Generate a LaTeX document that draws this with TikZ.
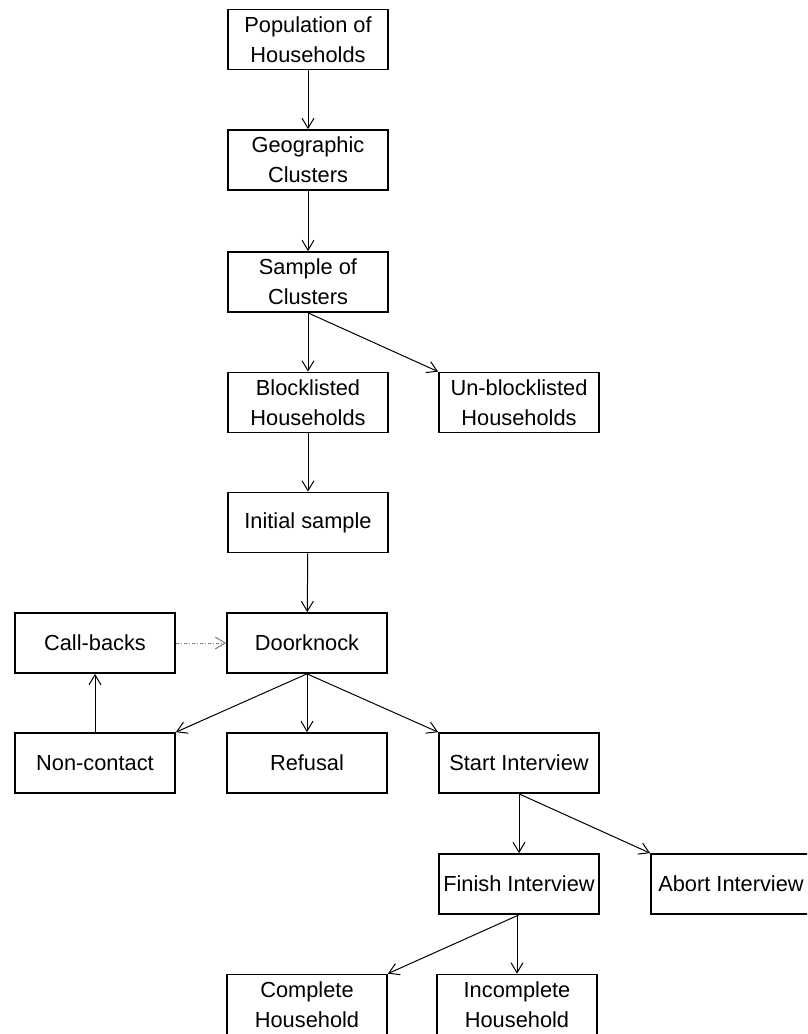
\documentclass[tikz,border=0pt]{standalone}
\usepackage{fontspec}
\setmainfont{Liberation Sans}
\usetikzlibrary{arrows.meta}
\begin{document}
\begin{tikzpicture}[x=1pt,y=-1pt,
  box/.style={draw, line width=1.7pt, minimum width=160pt, minimum height=60pt,
    align=center, inner sep=0pt, font=\fontsize{21.8}{30}\selectfont},
  link/.style={line width=1pt, -{Straight Barb[length=10pt,width=12pt,line width=1pt]}},
  dotlink/.style={link, dash dot, draw=gray}]
\useasboundingbox (0,0) rectangle (807,1034);
\clip (0,0) rectangle (807,1034);

% main column
\node[box] (pop)   at (308,39.5)  {Population of\\Households};
\node[box] (geo)   at (308,160)   {Geographic\\Clusters};
\node[box] (samp)  at (308,282)   {Sample of\\Clusters};
\node[box] (blk)   at (308,402.5) {Blocklisted\\Households};
\node[box] (unblk) at (519,402.5) {Un-blocklisted\\Households};
\node[box] (init)  at (308,522.5) {Initial sample};
\node[box] (door)  at (307,643)   {Doorknock};
\node[box] (call)  at (95,643)    {Call-backs};

% outcomes of a doorknock
\node[box] (nonc)  at (95,763)    {Non-contact};
\node[box] (ref)   at (307,763)   {Refusal};
\node[box] (start) at (519,763)   {Start Interview};
\node[box] (fin)   at (519,884)   {Finish Interview};
\node[box] (abort) at (731,884)   {Abort Interview};
\node[box] (comp)  at (307,1004.5){Complete\\Household};
\node[box] (incomp)at (517,1004.5){Incomplete\\Household};

% connectors
\draw[link] (pop) -- (geo);
\draw[link] (geo) -- (samp);
\draw[link] (samp.south) -- (blk.north);
\draw[link] (samp.south) -- (unblk.north west);
\draw[link] (blk) -- (init);
\draw[link] (init) -- (door);
\draw[dotlink] (call.east) -- (door.west);
\draw[link] (nonc.north) -- (call.south);
\draw[link] (door.south) -- (nonc.north east);
\draw[link] (door.south) -- (ref.north);
\draw[link] (door.south) -- (start.north west);
\draw[link] (start.south) -- (fin.north);
\draw[link] (start.south) -- (abort.north west);
\draw[link] (fin.south) -- (comp.north east);
\draw[link] (fin.south -| incomp.north) -- (incomp.north);
\end{tikzpicture}
\end{document}
